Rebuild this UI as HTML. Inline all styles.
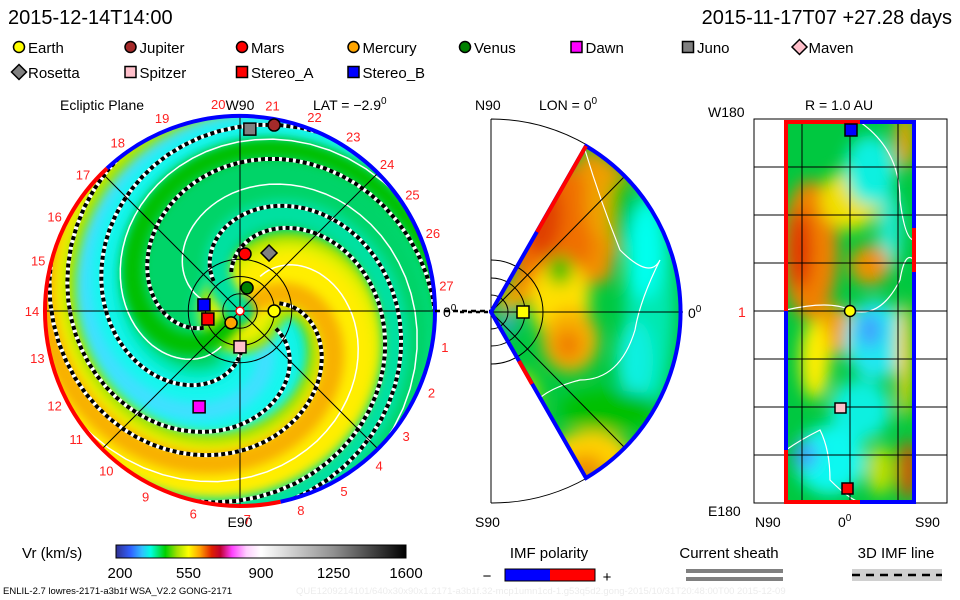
<!DOCTYPE html>
<html><head><meta charset="utf-8"><style>
body{margin:0;background:#fff;width:960px;height:600px;overflow:hidden;font-family:"Liberation Sans",sans-serif}
svg{display:block}
text{font-family:"Liberation Sans",sans-serif}
</style></head><body>
<svg id="s" width="960" height="600" viewBox="0 0 960 600" xmlns="http://www.w3.org/2000/svg">
<defs>
<clipPath id="circClip"><circle cx="240" cy="311" r="194"/></clipPath>
<clipPath id="wedgeClip"><path d="M491,312 L586,146 A193,193 0 0 1 586,478 Z"/></clipPath>
<clipPath id="rightHalf"><rect x="491" y="100" width="220" height="420"/></clipPath>
<clipPath id="rectClip"><rect x="786" y="122" width="128" height="380"/></clipPath>
<filter id="blur8" x="-50%" y="-50%" width="200%" height="200%"><feGaussianBlur stdDeviation="8"/></filter>
<filter id="blur4" x="-50%" y="-50%" width="200%" height="200%"><feGaussianBlur stdDeviation="5"/></filter>
<linearGradient id="cbar" x1="0" x2="1" y1="0" y2="0">
<stop offset="0" stop-color="#303090"/><stop offset="0.05" stop-color="#3060ff"/><stop offset="0.09" stop-color="#30c0ff"/><stop offset="0.12" stop-color="#00ffe0"/><stop offset="0.17" stop-color="#00d000"/><stop offset="0.21" stop-color="#a0e000"/><stop offset="0.25" stop-color="#ffff00"/><stop offset="0.29" stop-color="#ffa000"/><stop offset="0.33" stop-color="#e02000"/><stop offset="0.36" stop-color="#c00030"/><stop offset="0.40" stop-color="#ff40ff"/><stop offset="0.45" stop-color="#ffd0ff"/><stop offset="0.50" stop-color="#ffffff"/><stop offset="0.75" stop-color="#909090"/><stop offset="1" stop-color="#000000"/>
</linearGradient>
</defs>

<text x="8" y="24" font-size="20">2015-12-14T14:00</text>
<text x="952" y="24" font-size="20" text-anchor="end">2015-11-17T07 +27.28 days</text>
<g id="legend"></g>

<g>
<text x="60" y="110" font-size="14">Ecliptic Plane</text>
<text x="240" y="110" font-size="14" text-anchor="middle">W90</text>
<text x="313" y="110" font-size="14">LAT = −2.9<tspan dy="-6" font-size="10">0</tspan></text>
<text x="240" y="527" font-size="14" text-anchor="middle">E90</text>
<g clip-path="url(#circClip)">
<circle cx="240" cy="311" r="195" fill="#00d468"/>
<g id="bands"></g>
<g id="dashes"></g>
</g>
<g id="eclGrid" stroke="#000" stroke-width="1" fill="none"></g>
<path id="arcBlue" fill="none" stroke="#0000ff" stroke-width="4"/>
<path id="arcRed" fill="none" stroke="#ff0000" stroke-width="4"/>
<g id="lonLabels" fill="#ff2020" font-size="13"></g>
<line x1="435" y1="311" x2="491" y2="311" stroke="#000" stroke-width="2.5" stroke-dasharray="5,4"/>
<text x="443" y="317" font-size="14">0<tspan dy="-6" font-size="10">0</tspan></text>
<g id="eclMarkers"></g>
</g>

<g>
<text x="475" y="110" font-size="14">N90</text>
<text x="539" y="110" font-size="14">LON = 0<tspan dy="-6" font-size="10">0</tspan></text>
<text x="475" y="527" font-size="14">S90</text>
<path d="M491,119 L491,503 M491,119 A193,193 0 0 1 587,145 M491,503 A193,193 0 0 0 587,478" fill="none" stroke="#000" stroke-width="1"/>
<g clip-path="url(#wedgeClip)">
<rect x="480" y="120" width="220" height="380" fill="#00c840"/>
<g filter="url(#blur8)">
<path d="M491,312 L586,146 A193,193 0 0 1 630,175 L610,280 L540,300 Z" fill="#f09000"/>
<ellipse cx="550" cy="225" rx="45" ry="65" fill="#f07000"/>
<ellipse cx="540" cy="215" rx="22" ry="40" fill="#e04000"/>
<ellipse cx="600" cy="200" rx="15" ry="40" fill="#f0a000"/>
<ellipse cx="620" cy="215" rx="10" ry="40" fill="#00c000"/>
<ellipse cx="560" cy="300" rx="30" ry="40" fill="#ffe000"/>
<ellipse cx="570" cy="340" rx="28" ry="32" fill="#f8b000"/>
<ellipse cx="568" cy="345" rx="14" ry="16" fill="#f08000"/>
<ellipse cx="560" cy="270" rx="12" ry="15" fill="#00c000"/>
<ellipse cx="650" cy="300" rx="25" ry="110" fill="#00e8b0"/>
<ellipse cx="645" cy="250" rx="18" ry="50" fill="#00ffee"/>
<ellipse cx="635" cy="360" rx="18" ry="40" fill="#10f0e0"/>
<ellipse cx="610" cy="410" rx="50" ry="20" fill="#00c000"/>
<ellipse cx="590" cy="455" rx="40" ry="25" fill="#ffd000"/>
<ellipse cx="585" cy="470" rx="20" ry="15" fill="#f09000"/>
<ellipse cx="520" cy="400" rx="20" ry="30" fill="#a0e000"/>
<ellipse cx="510" cy="302" rx="10" ry="10" fill="#ffb000"/>
<ellipse cx="508" cy="325" rx="8" ry="8" fill="#40a0ff"/>
</g>
<path d="M585,150 Q600,200 620,250 Q650,280 660,260 Q640,300 635,330 Q620,380 580,380 Q540,390 530,410" fill="none" stroke="#fff" stroke-width="1.2"/>
</g>
<g stroke="#000" stroke-width="1" fill="none" clip-path="url(#rightHalf)">
<line x1="491" y1="312" x2="683" y2="312"/>
<line x1="491" y1="312" x2="625" y2="176"/>
<line x1="491" y1="312" x2="625" y2="448"/>
<circle cx="491" cy="312" r="17"/><circle cx="491" cy="312" r="34"/><circle cx="491" cy="312" r="52"/>
</g>
<path d="M586,146 A193,193 0 0 1 586,478 L491,312 Z" fill="none" stroke="#0000ff" stroke-width="4"/>
<path d="M586,146 L537,232" stroke="#ff0000" stroke-width="4"/>
<path d="M519,361 L532,384" stroke="#ff0000" stroke-width="4"/>
<line x1="460" y1="312" x2="491" y2="312" stroke="#000" stroke-width="2.5" stroke-dasharray="4,4"/>
<rect x="517" y="306" width="12" height="12" fill="#ffff00" stroke="#000" stroke-width="1.5"/>
<text x="688" y="318" font-size="14">0<tspan dy="-6" font-size="10">0</tspan></text>
</g>

<g>
<text x="805" y="110" font-size="14">R = 1.0 AU</text>
<text x="708" y="117" font-size="14">W180</text>
<text x="708" y="516" font-size="14">E180</text>
<text x="755" y="527" font-size="14">N90</text>
<text x="838" y="527" font-size="14">0<tspan dy="-6" font-size="10">0</tspan></text>
<text x="915" y="527" font-size="14">S90</text>
<text x="738" y="317" font-size="14" fill="#ff2020">1</text>
<rect x="754" y="119" width="193" height="384" fill="none" stroke="#000"/>
<g clip-path="url(#rectClip)">
<rect x="786" y="122" width="128" height="380" fill="#00c840"/>
<g filter="url(#blur8)">
<ellipse cx="810" cy="250" rx="28" ry="70" fill="#f08000"/>
<ellipse cx="800" cy="250" rx="12" ry="40" fill="#e03000"/>
<ellipse cx="850" cy="200" rx="30" ry="30" fill="#f0e000"/>
<ellipse cx="870" cy="170" rx="25" ry="35" fill="#10f0e0"/>
<ellipse cx="890" cy="230" rx="12" ry="40" fill="#20e8d0"/>
<ellipse cx="870" cy="265" rx="20" ry="20" fill="#f09000"/>
<ellipse cx="835" cy="330" rx="20" ry="25" fill="#f0a000"/>
<ellipse cx="815" cy="360" rx="15" ry="40" fill="#ffee00"/>
<ellipse cx="875" cy="340" rx="30" ry="40" fill="#20e8f0"/>
<ellipse cx="870" cy="330" rx="12" ry="18" fill="#40a0ff"/>
<ellipse cx="860" cy="410" rx="30" ry="30" fill="#10f0e0"/>
<ellipse cx="830" cy="460" rx="35" ry="35" fill="#10f8f0"/>
<ellipse cx="805" cy="455" rx="12" ry="15" fill="#40a0ff"/>
<ellipse cx="905" cy="360" rx="8" ry="60" fill="#ffd000"/>
<ellipse cx="908" cy="470" rx="10" ry="30" fill="#e05000"/>
<ellipse cx="905" cy="140" rx="10" ry="30" fill="#f0a000"/>
<ellipse cx="880" cy="470" rx="14" ry="25" fill="#c0e000"/>
</g>
<path d="M786,310 Q830,300 850,310 Q880,320 900,280 Q905,250 914,260" fill="none" stroke="#fff" stroke-width="1.2"/>
<path d="M860,122 Q900,150 900,200 Q905,240 914,240" fill="none" stroke="#fff" stroke-width="1.2"/>
<path d="M786,450 Q800,440 820,430 Q830,450 830,480 Q850,500 860,502" fill="none" stroke="#fff" stroke-width="1.2"/>
</g>
<g id="sphGrid" stroke="#000" stroke-width="1"></g>
<path d="M786,311 L786,122 L860,122" fill="none" stroke="#ff0000" stroke-width="4"/>
<path d="M786,311 L786,450" stroke="#0000ff" stroke-width="4"/>
<path d="M786,450 L786,502 L860,502" fill="none" stroke="#ff0000" stroke-width="4"/>
<path d="M860,122 L914,122 L914,502 L860,502" fill="none" stroke="#0000ff" stroke-width="4"/>
<path d="M914,228 L914,272" stroke="#ff0000" stroke-width="4"/>
<rect x="845" y="124" width="12" height="12" fill="#0000ff" stroke="#000" stroke-width="1.5"/>
<circle cx="850" cy="311" r="5.5" fill="#ffff00" stroke="#000" stroke-width="1.5"/>
<rect x="835" y="403" width="11" height="10" fill="#ffc0cb" stroke="#000" stroke-width="1.5"/>
<rect x="842" y="483" width="11" height="11" fill="#ff0000" stroke="#000" stroke-width="1.5"/>
</g>

<g>
<text x="22" y="558" font-size="15">Vr (km/s)</text>
<rect x="116" y="545" width="290" height="13" fill="url(#cbar)" stroke="#000" stroke-width="1"/>
<g id="cbTicks" font-size="15" text-anchor="middle"></g>
</g>
<g>
<text x="549" y="558" font-size="15" text-anchor="middle">IMF polarity</text>
<rect x="505" y="569" width="45" height="12" fill="#0000ff"/>
<rect x="550" y="569" width="45" height="12" fill="#ff0000"/>
<rect x="505" y="569" width="90" height="12" fill="none" stroke="#000"/>
<text x="487" y="581" font-size="15" text-anchor="middle">−</text>
<text x="607" y="582" font-size="15" text-anchor="middle">+</text>
</g>
<g>
<text x="729" y="558" font-size="15" text-anchor="middle">Current sheath</text>
<rect x="686" y="569" width="97" height="4" fill="#808080"/>
<rect x="686" y="577" width="97" height="4" fill="#808080"/>
</g>
<g>
<text x="896" y="558" font-size="15" text-anchor="middle">3D IMF line</text>
<rect x="852" y="569" width="90" height="12" fill="#d0d0d0"/>
<line x1="852" y1="575" x2="942" y2="575" stroke="#000" stroke-width="2.5" stroke-dasharray="8,6"/>
</g>
<text x="3" y="594" font-size="9.5">ENLIL-2.7 lowres-2171-a3b1f WSA_V2.2 GONG-2171</text>
<text x="296" y="594" font-size="9.5" fill="#ececec">QUE1209214101/640x30x90x1.2171-a3b1f.32-mcp1umn1cd-1.g53q5d2.gong-2015/10/31T20:48:00T00   2015-12-09</text>
</svg>
<script>
const planetNames = ["Jupiter","Juno","Rosetta","Mars","Venus","Stereo_B","Stereo_A","Mercury","Earth","Spitzer","Dawn"];
const planetDistAU = [5.48,5.28,1.88,1.66,0.70,1.06,0.96,0.43,0.99,1.04,3.02];
const planetLonDeg = [79.6,86.9,63.4,85,73,170.5,194,233,0,270,246.9];
const planetShapes = ["circle","square","diamond","circle","circle","square","square","circle","circle","square","square"];
const planetColors = ["#a52a2a","#808080","#808080","#ff0000","#008000","#0000ff","#ff0000","#ffa500","#ffff00","#ffc0cb","#ff00ff"];
const legendNames = ["Earth","Jupiter","Mars","Mercury","Venus","Dawn","Juno","Maven","Rosetta","Spitzer","Stereo_A","Stereo_B"];
const legendShapes = ["circle","circle","circle","circle","circle","square","square","diamond","diamond","square","square","square"];
const legendColors = ["#ffff00","#a52a2a","#ff0000","#ffa500","#008000","#ff00ff","#808080","#ffc0cb","#808080","#ffc0cb","#ff0000","#0000ff"];
const cbTicks = [200,550,900,1250,1600];
const lonLabels = ["20","21","22","23","24","25","26","27","1","2","3","4","5","8","7","6","9","10","11","12","13","14","15","16","17","18","19"];
const lonLabelAngles = [96,81,69,57,45,34,22,7,-10,-23,-37,-48,-60,-73,-88,-103,-117,-130,-142,-153,-167,180,166,153,139,126,112];
const sheathPhases = [1.38,0.3,-1.95,2.55,-2.45,-0.35];
const whitePhases = [-1.2,-3.0,1.9];

const NS="http://www.w3.org/2000/svg";
function mk(tag,attrs,parent){const e=document.createElementNS(NS,tag);for(const k in attrs)e.setAttribute(k,attrs[k]);parent.appendChild(e);return e;}
const CX=240,CY=311,R=195,AU=34.5,A=101;
function eclX(au,deg){return CX+au*AU*Math.cos(deg*Math.PI/180);}
function eclY(au,deg){return CY-au*AU*Math.sin(deg*Math.PI/180);}
function cbX(v){return 116+(v-200)/(1600-200)*290;}

function marker(shape,x,y,color,parent,s){
  s=s||6;let e;
  if(shape==="circle") e=mk('circle',{cx:x,cy:y,r:s,fill:color,stroke:'#000','stroke-width':1.5},parent);
  else if(shape==="square") e=mk('rect',{x:x-s,y:y-s,width:2*s,height:2*s,fill:color,stroke:'#000','stroke-width':1.5},parent);
  else e=mk('path',{d:`M${x},${y-s-2}L${x+s+2},${y}L${x},${y+s+2}L${x-s-2},${y}Z`,fill:color,stroke:'#000','stroke-width':1.5},parent);
  return e;
}

const lg=document.getElementById('legend');
legendNames.forEach((n,i)=>{
  const row=i<8?0:1, col=i<8?i:i-8;
  const x=19+col*111.5, y=row?72:47;
  const m=marker(legendShapes[i],x,y,legendColors[i],lg,5.5);
  
  
  const t=mk('text',{x:x+9,y:y+6,'font-size':15},lg);t.textContent=n;
  
  
});

// spiral: r = A*sqrt(t), angle = phi + t
function spiralPath(phi,rMax,rMin){
  rMin=rMin||0;
  let d='';
  for(let r=rMin;r<=rMax;r+=3){
    const t=(r/A)*(r/A), th=phi+t;
    const x=CX+r*Math.cos(th), y=CY+r*Math.sin(th);
    d+=(d?'L':'M')+x.toFixed(1)+','+y.toFixed(1);
  }
  return d;
}
const bands=document.getElementById('bands');
const bandDefs=[
 [0.72,95,'#00e8b0'],[0.72,75,'#10f0e0'],[0.75,55,'#18f6ee'],[0.8,18,'#40e0ff'],
 [-1.0,85,'#a0e000'],[-1.0,66,'#e0f000'],[-1.0,46,'#ffee00'],[-0.6,22,'#f8b000'],
 [2.2,20,'#00c000'],[-2.3,26,'#00e0a0']
];
bandDefs.forEach(b=>{
  const p=mk('path',{d:spiralPath(b[0],260),fill:'none',stroke:b[2],'stroke-width':b[1],'stroke-linecap':'round',filter:'url(#blur4)'},bands);
  
  
});
const dashes=document.getElementById('dashes');
sheathPhases.forEach(ph=>{
  const d=spiralPath(ph,200,40);
  mk('path',{d:d,fill:'none',stroke:'#fff','stroke-width':4},dashes);
  const p=mk('path',{d:d,fill:'none',stroke:'#000','stroke-width':4,'stroke-dasharray':'4,3'},dashes);
  
  
});
whitePhases.forEach(ph=>{mk('path',{d:spiralPath(ph,200,40),fill:'none',stroke:'#fff','stroke-width':1.5},dashes);});

const g=document.getElementById('eclGrid');
[0,45,90,135].forEach(a=>{const c=Math.cos(a*Math.PI/180),s=Math.sin(a*Math.PI/180);
  mk('line',{x1:CX-R*c,y1:CY-R*s,x2:CX+R*c,y2:CY+R*s},g);});
[0.5,1,1.5].forEach(au=>mk('circle',{cx:CX,cy:CY,r:au*AU},g));
function arc(a0,a1){
  const p=a=>[CX+R*Math.cos(a*Math.PI/180),CY+R*Math.sin(a*Math.PI/180)];
  const s=p(a0),e=p(a1);const large=((a1-a0+360)%360)>180?1:0;
  return `M${s[0]},${s[1]}A${R},${R} 0 ${large} 1 ${e[0]},${e[1]}`;
}
document.getElementById('arcBlue').setAttribute('d',arc(-133,78));
document.getElementById('arcRed').setAttribute('d',arc(78,227));
const ll=document.getElementById('lonLabels');
lonLabels.forEach((l,i)=>{const a=lonLabelAngles[i]*Math.PI/180;
  const t=mk('text',{x:CX+208*Math.cos(a),y:CY-208*Math.sin(a)+5,'text-anchor':'middle'},ll);t.textContent=l;
  
  });
const em=document.getElementById('eclMarkers');
planetNames.forEach((n,i)=>{
  const m=marker(planetShapes[i],eclX(planetDistAU[i],planetLonDeg[i]),eclY(planetDistAU[i],planetLonDeg[i]),planetColors[i],em,6);
  
  
});
mk('circle',{cx:CX,cy:CY,r:4,fill:'#fff',stroke:'#f00','stroke-width':1.5},em);
const sg=document.getElementById('sphGrid');
[802,850,898].forEach(x=>mk('line',{x1:x,y1:122,x2:x,y2:502},sg));
[167,215,263,311,359,407,455].forEach(y=>mk('line',{x1:754,y1:y,x2:947,y2:y},sg));
const cb=document.getElementById('cbTicks');
cbTicks.forEach(v=>{const t=mk('text',{x:cbX(v)+(v===200?4:0),y:578},cb);t.textContent=v;
  
  });
</script>
</body></html>
